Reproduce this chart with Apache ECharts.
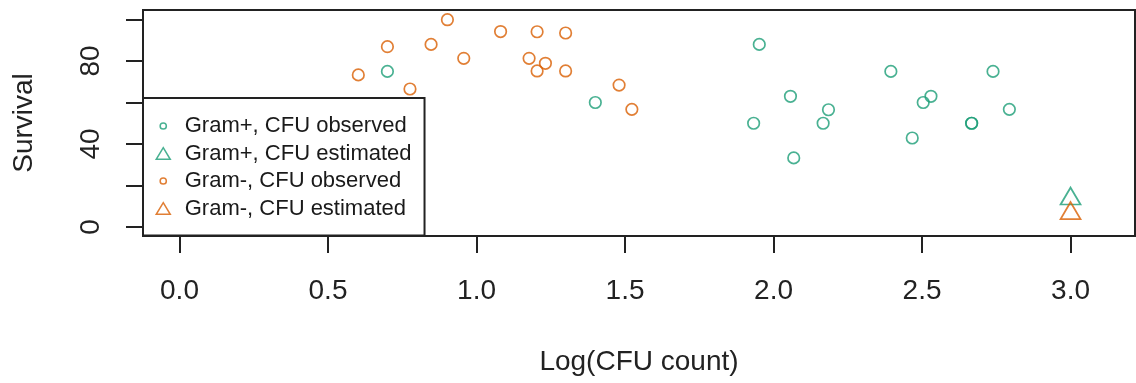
<!DOCTYPE html>
<html>
<head>
<meta charset="utf-8">
<script src="https://cdn.jsdelivr.net/npm/echarts@6/dist/echarts.min.js"></script>
<style>
    html, body { margin: 0; padding: 0; background: #fff; }
    #main { width: 1136px; height: 383px; }
</style>
</head>
<body>
<div id="main"></div>
<script>
// 数据
var gramPosObsX = [0.700, 1.400, 1.952, 2.057, 1.933, 2.185, 2.167, 2.068, 2.395, 2.467, 2.504, 2.530, 2.667, 2.667, 2.739, 2.794];
var gramPosObsY = [75.0, 60.0, 88.0, 63.0, 50.0, 56.5, 50.0, 33.3, 75.0, 42.9, 60.0, 63.0, 50.0, 50.0, 75.0, 56.7];

var gramNegObsX = [0.602, 0.700, 0.776, 0.847, 0.902, 0.957, 1.081, 1.177, 1.204, 1.204, 1.232, 1.300, 1.300, 1.480, 1.523];
var gramNegObsY = [73.3, 86.9, 66.5, 88.0, 99.9, 81.3, 94.2, 81.3, 94.1, 75.2, 78.9, 93.5, 75.2, 68.4, 56.7];

var gramPosEstX = [3.0];
var gramPosEstY = [14.9];
var gramNegEstX = [3.0];
var gramNegEstY = [7.9];

var xTicks = [0, 0.5, 1.0, 1.5, 2.0, 2.5, 3.0];
var yTicks = [0, 20, 40, 60, 80, 100];
var yTickLabels = [0, 40, 80];

var seriesNames = ['Gram+, CFU observed', 'Gram+, CFU estimated', 'Gram-, CFU observed', 'Gram-, CFU estimated'];

var green = '#1B9E77';
var orange = '#D95F02';
var ink = '#222';
var font = 'Liberation Sans, Arial, sans-serif';

function pairs(xs, ys){
    var out = [];
    for(var i=0;i<xs.length;i++){
        out.push([xs[i], ys[i]]);
    }
    return out;
}

// legend icons: the extra moveTo points fix the box so the shapes keep their size
var circleIcon = 'path://M0,0M33,14M13.4,7A3.1,3.1,0,1,1,19.6,7A3.1,3.1,0,1,1,13.4,7Z';
var triangleIcon = 'path://M0,0M33,14M16.5,1.2L23.5,12.8L9.5,12.8Z';

function scatter(name, data, color, symbol, size){
    return {
        name: name,
        type: 'scatter',
        data: data,
        symbol: symbol,
        symbolSize: size,
        itemStyle: {
            color: 'rgba(0,0,0,0)',
            borderColor: color,
            borderWidth: 1.7
        },
        emphasis: { disabled: true },
        z: 2
    };
}

var chart = echarts.init(document.getElementById('main'), null, { renderer: 'canvas' });
var option = {
    animation: false,
    grid: {
        left: 143,
        top: 10,
        width: 992,
        height: 226,
        show: true,
        borderColor: ink,
        borderWidth: 2,
        backgroundColor: 'transparent'
    },
    xAxis: {
        type: 'value',
        min: -0.1229,
        max: 3.217,
        name: 'Log(CFU count)',
        nameLocation: 'middle',
        nameGap: 112,
        nameTextStyle: { fontSize: 28, fontFamily: font, color: ink, lineHeight: 28 },
        axisLine: { show: false, onZero: false },
        axisTick: {
            show: true,
            inside: false,
            length: 17,
            customValues: xTicks,
            lineStyle: { color: ink, width: 2 }
        },
        axisLabel: {
            customValues: xTicks,
            margin: 41,
            fontSize: 28,
            lineHeight: 28,
            fontFamily: font,
            color: ink,
            formatter: function(v){ return v.toFixed(1); }
        },
        splitLine: { show: false }
    },
    yAxis: {
        type: 'value',
        min: -4.34,
        max: 104.58,
        name: 'Survival',
        nameLocation: 'middle',
        nameGap: 105,
        nameTextStyle: { fontSize: 28, fontFamily: font, color: ink, lineHeight: 28 },
        axisLine: { show: false, onZero: false },
        axisTick: {
            show: true,
            inside: false,
            length: 17,
            customValues: yTicks,
            lineStyle: { color: ink, width: 2 }
        },
        axisLabel: {
            customValues: yTickLabels,
            rotate: 90,
            margin: 38,
            fontSize: 28,
            lineHeight: 28,
            fontFamily: font,
            color: ink
        },
        splitLine: { show: false }
    },
    legend: {
        orient: 'vertical',
        left: 143,
        top: 98,
        padding: [17, 13, 16, 3],
        itemWidth: 33,
        itemHeight: 14,
        itemGap: 5.5,
        backgroundColor: '#fff',
        borderColor: ink,
        borderWidth: 2,
        selectedMode: false,
        textStyle: { fontSize: 22, lineHeight: 22, fontFamily: font, color: '#1a1a1a', padding: [0, 0, 0, 0] },
        data: [
            { name: seriesNames[0], icon: circleIcon, itemStyle: { color: 'rgba(0,0,0,0)', borderColor: green, borderWidth: 1.5 } },
            { name: seriesNames[1], icon: triangleIcon, itemStyle: { color: 'rgba(0,0,0,0)', borderColor: green, borderWidth: 1.5 } },
            { name: seriesNames[2], icon: circleIcon, itemStyle: { color: 'rgba(0,0,0,0)', borderColor: orange, borderWidth: 1.5 } },
            { name: seriesNames[3], icon: triangleIcon, itemStyle: { color: 'rgba(0,0,0,0)', borderColor: orange, borderWidth: 1.5 } }
        ]
    },
    series: [
        scatter(seriesNames[0], pairs(gramPosObsX, gramPosObsY), green, 'circle', 11.5),
        scatter(seriesNames[1], pairs(gramPosEstX, gramPosEstY), green, 'triangle', [20, 17]),
        scatter(seriesNames[2], pairs(gramNegObsX, gramNegObsY), orange, 'circle', 11.5),
        scatter(seriesNames[3], pairs(gramNegEstX, gramNegEstY), orange, 'triangle', [20, 17])
    ]
};
chart.setOption(option);
</script>
</body>
</html>
